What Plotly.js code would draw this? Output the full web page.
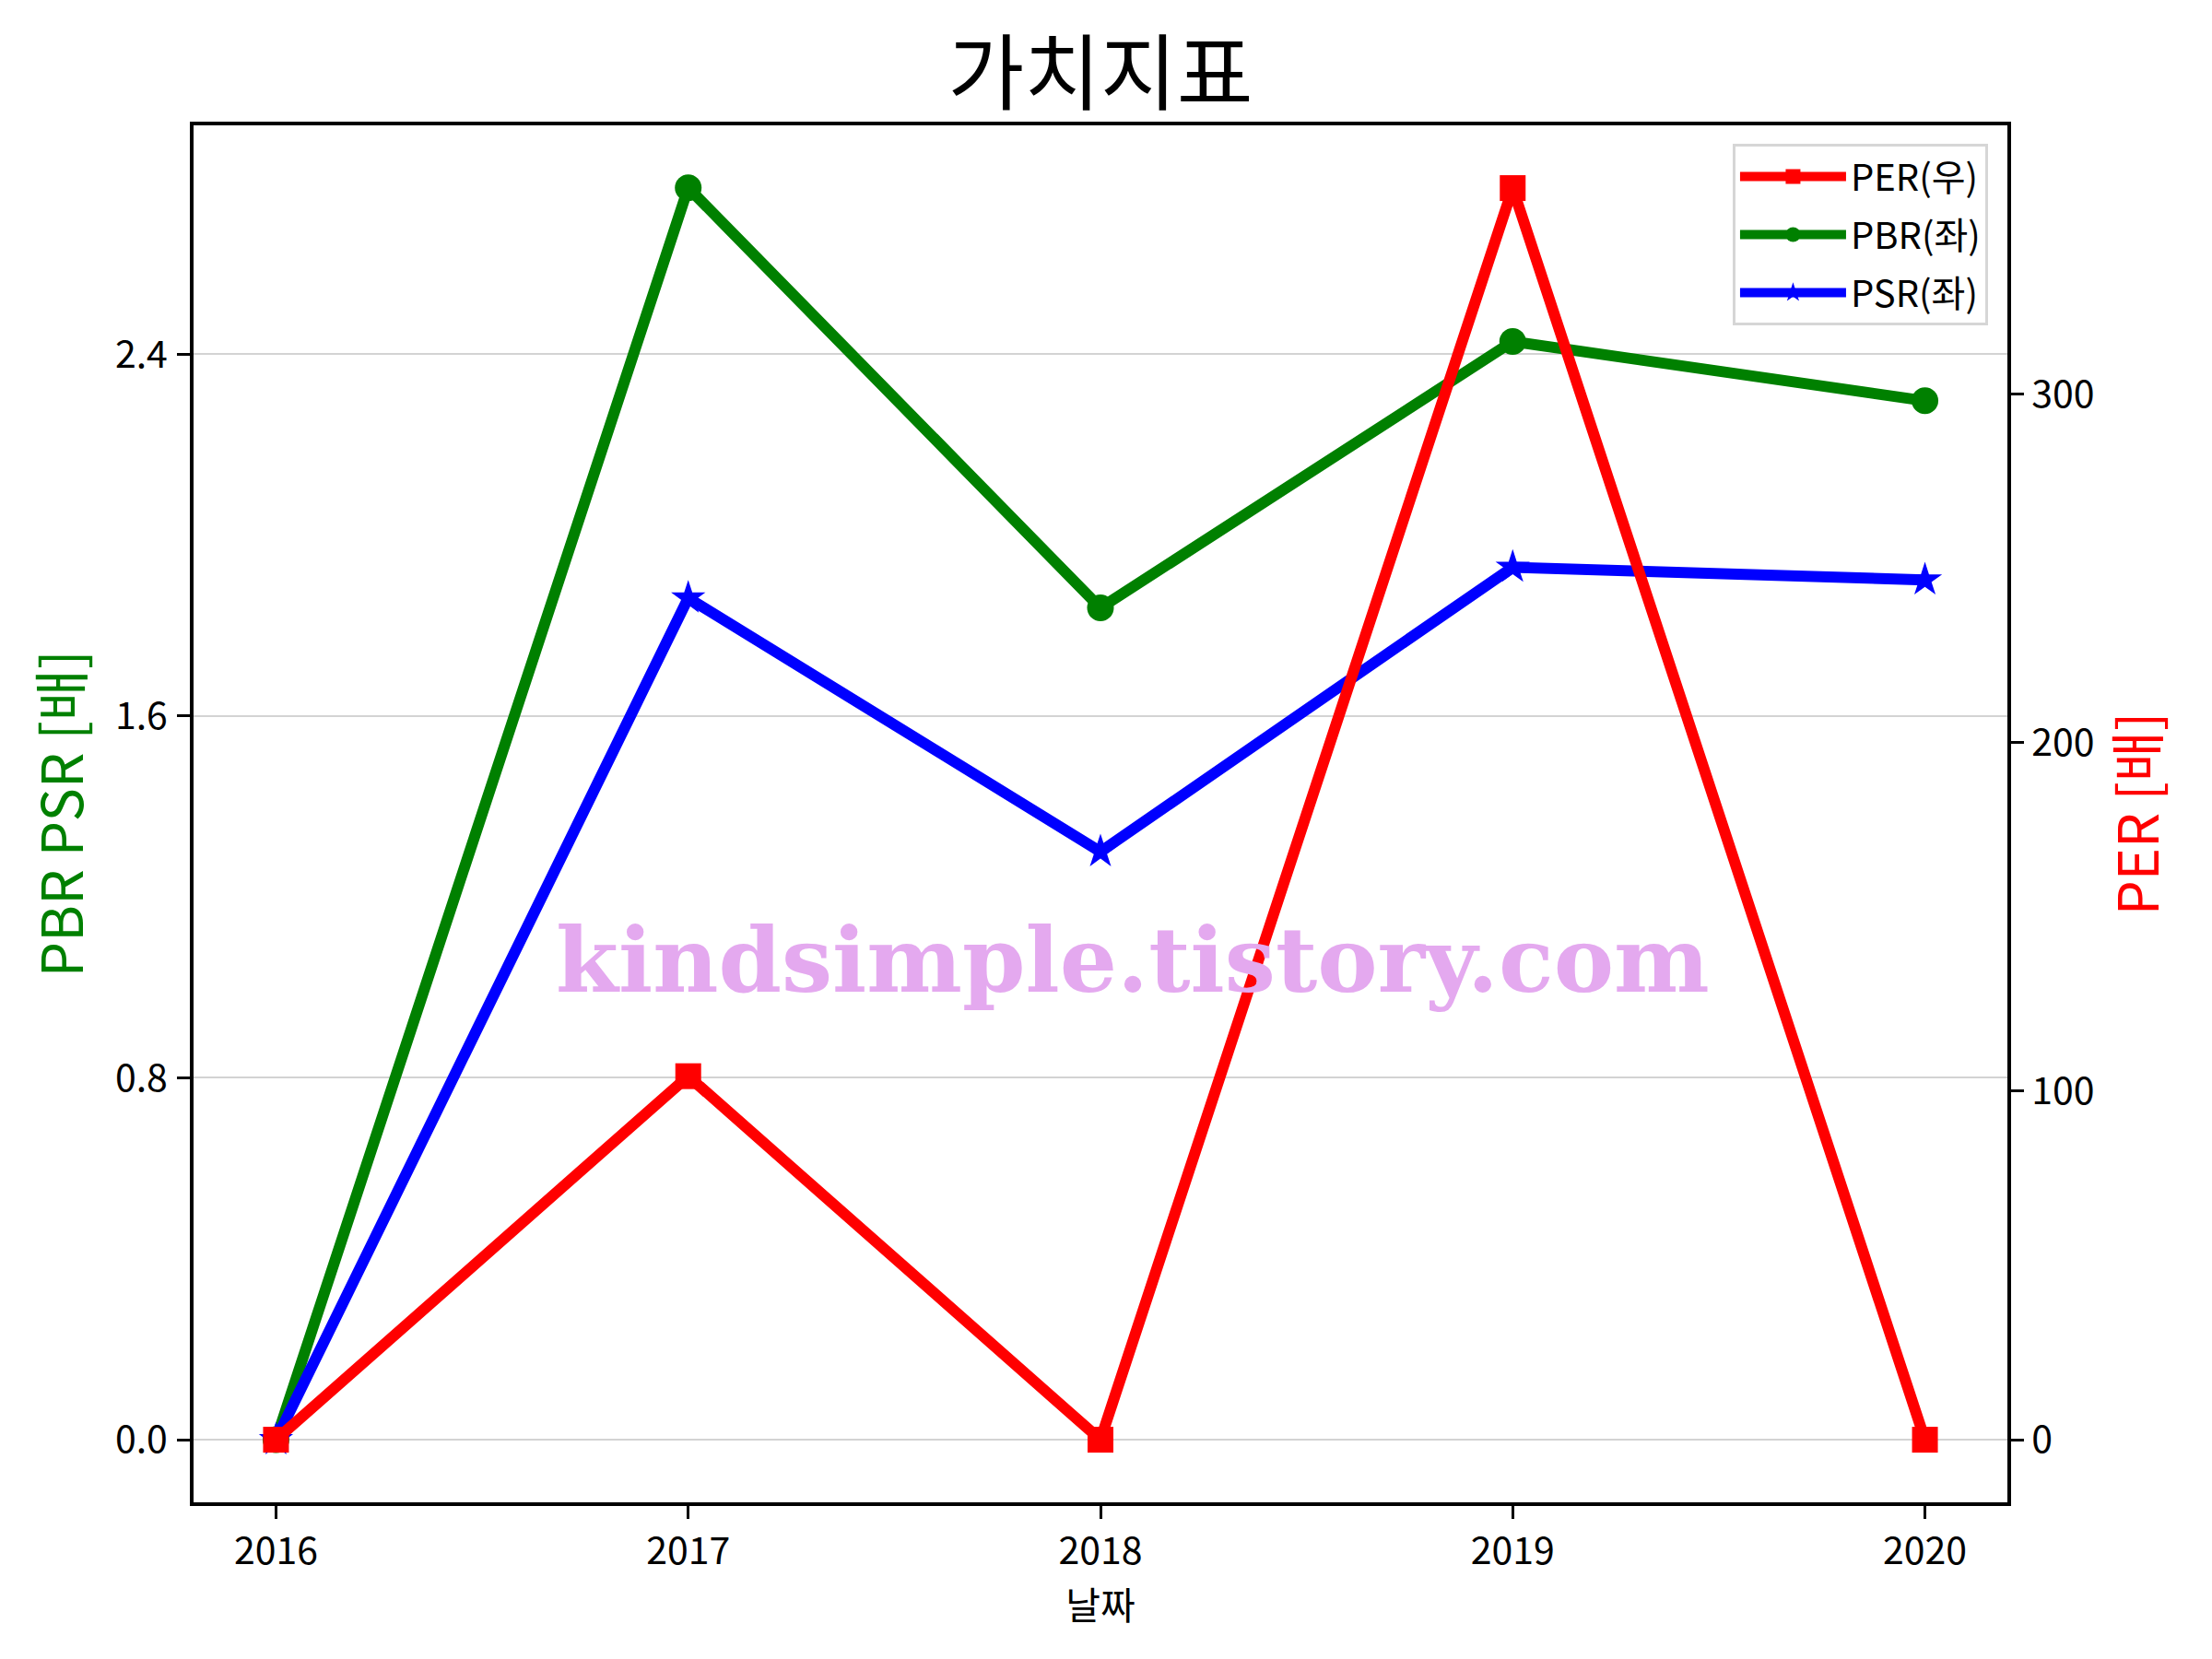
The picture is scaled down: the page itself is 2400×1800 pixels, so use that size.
<!DOCTYPE html>
<html>
<head>
<meta charset="utf-8">
<script src="https://cdn.plot.ly/plotly-3.0.1.min.js"></script>
<style>
  html, body { margin: 0; padding: 0; background: #ffffff; }
  #chart { width: 2400px; height: 1800px; }
</style>
</head>
<body>
<div id="chart"></div>
<script>
// ---- data ----
const years = [2016, 2017, 2018, 2019, 2020];
const per = [0, 104.3, 0, 359.1, 0];          // right axis
const pbr = [0, 2.768, 1.839, 2.428, 2.297];  // left axis
const psr = [0, 1.861, 1.300, 1.929, 1.901];  // left axis
const leftTicks = [0, 0.8, 1.6, 2.4];
const rightTicks = [0, 100, 200, 300];
const titleText = '가치지표';
const xTitle = '날짜';
const yTitle = 'PBR PSR [배]';
const y2Title = 'PER [배]';
const watermark = 'kindsimple.tistory.com';

const FONT = '"Noto Sans CJK KR", "Noto Sans", sans-serif';

const traces = [
  {
    x: years, y: per, name: 'PER(우)', yaxis: 'y2', type: 'scatter', mode: 'lines+markers',
    line: {color: '#ff0000', width: 12}, marker: {symbol: 'square', size: 28, color: '#ff0000'},
    legendgroup: 'a'
  },
  {
    x: years, y: pbr, name: 'PBR(좌)', yaxis: 'y', type: 'scatter', mode: 'lines+markers',
    line: {color: '#008000', width: 12}, marker: {symbol: 'circle', size: 29, color: '#008000'},
    legendgroup: 'b'
  },
  {
    x: years, y: psr, name: 'PSR(좌)', yaxis: 'y', type: 'scatter', mode: 'lines+markers',
    line: {color: '#0000ff', width: 12}, marker: {symbol: 'star', size: 28, color: '#0000ff'},
    legendgroup: 'c'
  }
];

const layout = {
  width: 2400, height: 1800,
  paper_bgcolor: '#ffffff', plot_bgcolor: '#ffffff',
  margin: {l: 210, r: 222, t: 136, b: 170},
  font: {family: FONT, color: '#000000', size: 41},
  title: {
    text: titleText, font: {family: FONT, size: 90, color: '#000000'},
    x: 0.5, xref: 'paper', xanchor: 'center',
    y: 1 - 80 / 1800, yref: 'container', yanchor: 'middle'
  },
  showlegend: true,
  legend: {
    x: 0.9893, xanchor: 'right', y: 0.9866, yanchor: 'top',
    bgcolor: '#ffffff', bordercolor: '#d6d6d6', borderwidth: 3,
    font: {family: FONT, size: 40, color: '#000000'},
    tracegroupgap: 8, itemwidth: 115
  },
  xaxis: {
    range: [2015.8, 2020.2], tickvals: years, ticktext: years.map(String),
    showgrid: false, zeroline: false,
    showline: true, linecolor: '#000000', linewidth: 4, mirror: true,
    ticks: 'outside', ticklen: 14, tickwidth: 3, tickcolor: '#000000',
    ticklabelstandoff: 0,
    tickfont: {family: FONT, size: 41, color: '#000000'},
    title: {text: xTitle, font: {family: FONT, size: 41, color: '#000000'}, standoff: 8}
  },
  yaxis: {
    range: [-0.1384, 2.906], tickvals: leftTicks, tickformat: '.1f',
    showgrid: true, gridcolor: '#d3d3d3', gridwidth: 2, zeroline: false,
    showline: true, linecolor: '#000000', linewidth: 4,
    ticks: 'outside', ticklen: 14, tickwidth: 3, tickcolor: '#000000',
    ticklabelstandoff: 2,
    tickfont: {family: FONT, size: 41, color: '#000000'},
    title: {text: yTitle, font: {family: FONT, size: 61, color: '#008000'}, standoff: 16}
  },
  yaxis2: {
    overlaying: 'y', side: 'right',
    range: [-17.96, 377.1], tickvals: rightTicks,
    showgrid: false, zeroline: false,
    showline: true, linecolor: '#000000', linewidth: 4,
    ticks: 'outside', ticklen: 14, tickwidth: 3, tickcolor: '#000000',
    ticklabelstandoff: 0,
    tickfont: {family: FONT, size: 41, color: '#000000'},
    title: {text: y2Title, font: {family: FONT, size: 60, color: '#ff0000'}, standoff: 18}
  },
  annotations: [
    {
      text: '<b>' + watermark + '</b>', xref: 'paper', yref: 'paper',
      x: 0.518, y: 0.394, xanchor: 'center', yanchor: 'middle', showarrow: false,
      font: {family: '"DejaVu Serif", serif', size: 98, color: '#e4a9ef'}
    }
  ]
};

Plotly.newPlot('chart', traces, layout, {displayModeBar: false, staticPlot: true});
</script>
</body>
</html>
